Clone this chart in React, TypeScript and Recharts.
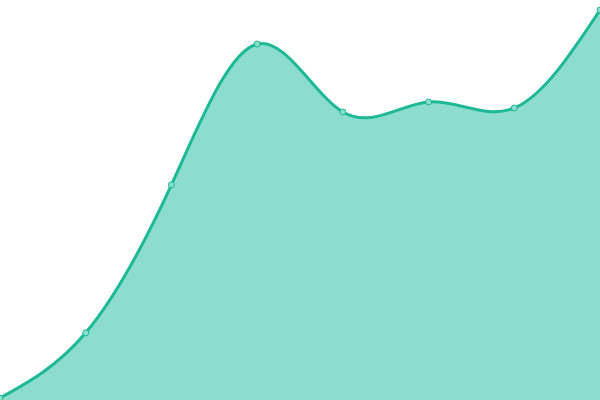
import { AreaChart, Area, XAxis, YAxis } from "recharts";

const CATEGORIES = ["A", "B", "C", "D", "E", "F", "G", "H"];
const VALUES = [0.5, 16.8, 53.8, 89, 72, 74.5, 73, 97.5];

const data = CATEGORIES.map((name, i) => ({ name, value: VALUES[i] }));

export default function App() {
  return (
    <div style={{ position: "absolute", left: 0, top: 0, width: 600, height: 400, background: "#fff" }}>
      <AreaChart width={600} height={400} data={data} margin={{ top: 0, right: 0, bottom: 0, left: 0 }}>
        <XAxis dataKey="name" hide />
        <YAxis hide domain={[0, 100]} />
        <Area
          type="natural"
          dataKey="value"
          stroke="#1db894"
          strokeWidth={3}
          fill="#1abc9c"
          fillOpacity={0.5}
          dot={{ r: 3, fill: "#8ae0cf", stroke: "#1db894", strokeWidth: 1, fillOpacity: 1 }}
          activeDot={false}
          isAnimationActive={false}
        />
      </AreaChart>
    </div>
  );
}
